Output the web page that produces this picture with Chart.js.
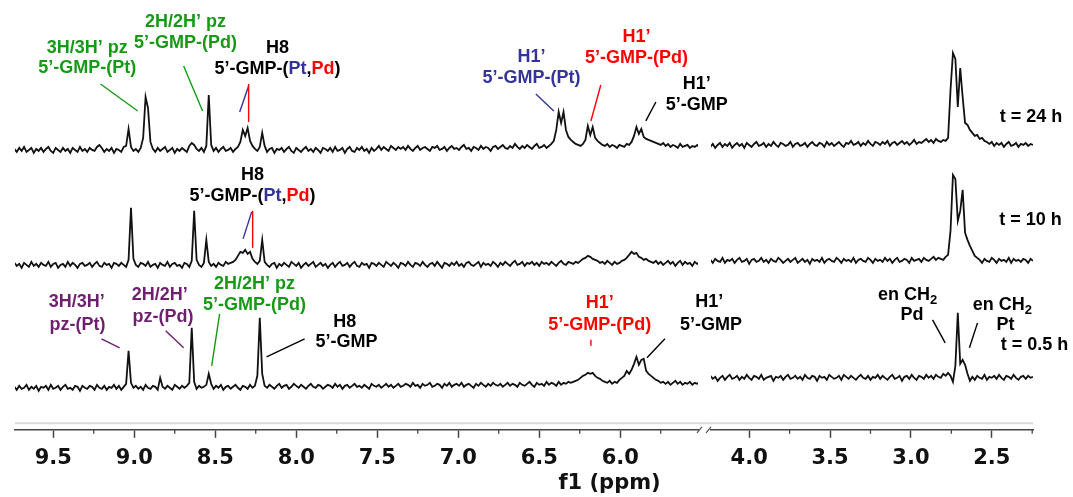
<!DOCTYPE html>
<html>
<head>
<meta charset="utf-8">
<script src="https://cdn.jsdelivr.net/npm/chart.js@4.4.0/dist/chart.umd.min.js"></script>
<style>
  html, body { margin: 0; padding: 0; background: #fff; }
  #wrap { position: relative; width: 1073px; height: 497px; }
  #wrap canvas { position: absolute; left: 0; top: 0; }
</style>
</head>
<body>
<div id="wrap">
  <canvas id="left" width="1073" height="497"></canvas>
  <canvas id="right" width="1073" height="497"></canvas>
</div>
<script>
// spectra are sampled every 0.015 ppm, left part from 9.74 ppm, right part from 4.24 ppm
const ppmStep = 0.015;
const leftStart = 9.74;
const rightStart = 4.24;

// stacked traces: t = 0.5 h, t = 10 h, t = 24 h (vertical offsets of each trace)
const traceNames = ['t = 0.5 h', 't = 10 h', 't = 24 h'];
const baseLeft = [42, 165, 280];
const baseRight = [52, 169, 285];

// tick labels (ppm)
const leftTicks = [9.5, 9.0, 8.5, 8.0, 7.5, 7.0, 6.5, 6.0];
const leftMinor = [9.25, 8.75, 8.25, 7.75, 7.25, 6.75, 6.25, 5.75];
const rightTicks = [4.0, 3.5, 3.0, 2.5];
const rightMinor = [3.75, 3.25, 2.75, 2.25];

// intensities above each baseline
const t05Left = [
  1,-2,2,-1,0,3,-2,1,-1,2,
  -3,1,0,2,-2,3,-1,0,2,-2,
  1,3,-1,0,-2,2,1,-3,2,0,
  -1,2,1,-2,3,0,-1,2,-2,1,
  0,3,-1,2,-2,1,4,37,5,0,
  2,-1,1,-2,3,0,-1,2,1,-2,
  10,1,-1,2,0,-2,3,1,-1,2,
  0,2,5,60,6,-1,2,0,1,3,
  14,4,-1,2,0,3,-2,1,2,-1,
  1,3,0,-2,2,1,-1,3,0,2,
  12,70,14,2,0,3,1,-1,2,4,
  0,2,3,-1,1,4,2,0,3,1,
  -1,2,4,1,0,3,2,-1,1,3,
  2,0,4,1,3,-1,2,3,0,2,
  4,1,2,0,3,1,-1,4,2,1,
  3,0,2,4,1,3,0,2,4,1,
  2,4,3,1,5,2,3,0,4,2,
  3,5,1,2,4,3,0,4,2,5,
  1,3,4,2,5,1,3,4,2,0,
  4,2,5,3,1,4,2,5,3,2,
  4,1,3,5,2,4,3,1,5,3,
  2,4,6,3,1,5,3,4,2,6,
  3,5,4,2,6,3,5,4,6,5,
  6,7,8,10,12,13,15,14,15,12,
  10,9,7,6,5,7,4,6,5,8,
  10,12,17,14,18,24,31,23,28,29,
  17,14,12,10,8,7,5,6,4,6,
  3,5,7,4,6,3,5,4,6,3,
  5,4,6
];
const t05Right = [
  2,-1,1,-3,0,2,-2,1,3,-1,
  0,2,-2,1,-1,3,0,-2,2,1,
  -1,3,-2,0,1,2,-3,1,0,2,
  -2,1,3,-1,0,2,-1,1,-2,3,
  0,-1,2,1,-3,2,0,1,-2,3,
  1,-1,0,2,-2,3,1,-1,2,0,
  -2,1,3,0,-1,2,-2,1,0,3,
  -1,2,0,-2,1,3,-1,0,2,-3,
  1,2,-1,3,0,-2,2,1,-1,3,
  0,2,-1,3,1,0,4,2,5,2,
  -4,12,65,14,18,13,4,-3,1,-2,
  2,0,-1,3,-2,1,0,2,-1,3,
  0,-2,2,1,-1,3,0,-2,1,2,
  -1,2,0,1
];
const t10Left = [
  2,-1,1,-3,2,0,-2,3,-1,1,
  -2,2,0,-1,3,-2,1,2,-3,0,
  1,-2,3,-1,2,0,-3,1,2,-1,
  0,2,-2,1,3,-1,-2,2,0,1,
  -3,2,1,-1,2,0,-2,5,57,6,
  0,-2,2,1,-1,3,-2,0,1,-3,
  2,0,-1,3,-2,1,2,-1,0,-3,
  2,1,-2,4,54,5,0,-2,2,25,
  3,-1,1,-2,2,0,-1,3,1,2,
  3,5,9,13,12,15,11,13,6,3,
  1,4,25,3,0,-2,1,2,-3,1,
  -1,2,0,-2,3,1,-1,2,-3,0,
  2,-1,1,3,-2,0,2,-1,1,-3,
  0,2,-2,1,3,-1,0,2,-2,1,
  3,-1,-2,2,0,1,-3,2,1,-1,
  2,0,-2,3,1,-1,2,0,-3,2,
  1,-1,3,0,-2,2,1,-1,3,0,
  -2,1,2,-1,3,0,-3,2,1,-1,
  2,0,3,-1,1,-2,2,3,0,-1,
  1,3,-2,2,0,1,-1,3,1,-2,
  2,0,3,1,-1,2,4,0,1,3,
  -1,2,1,3,0,2,-1,3,1,2,
  0,3,1,-1,2,4,1,0,3,2,
  1,3,2,4,6,7,9,8,6,5,
  4,2,3,1,4,2,0,3,1,2,
  4,5,7,10,13,11,12,8,7,5,
  6,4,3,2,4,1,3,0,2,4,
  1,3,-1,2,4,0,3,1,2,-1,
  3,1,2
];
const t10Right = [
  1,-2,2,0,-1,3,-2,1,0,2,
  -2,1,3,-1,0,2,-3,1,2,-1,
  0,3,-1,1,-2,2,0,-1,3,1,
  -2,0,2,-1,1,3,-2,0,2,-1,
  1,-3,2,0,1,-1,3,-2,1,2,
  0,-1,3,1,-2,2,0,1,-1,3,
  -2,1,2,0,-1,3,1,-2,2,0,
  1,-1,3,0,2,-2,1,3,-1,0,
  2,1,-2,3,0,1,2,-1,3,1,
  0,2,4,1,3,2,1,4,6,30,
  86,82,40,50,71,28,21,15,10,5,
  3,1,-2,2,0,-1,3,1,-2,2,
  0,1,-1,3,-2,2,0,1,-1,2,
  1,-2,2,0
];
const t24Left = [
  1,-2,2,-1,3,-2,0,2,-3,1,
  -1,2,-2,1,3,-1,-3,2,0,-2,
  2,-1,1,-3,2,0,-2,3,-1,1,
  -2,2,0,-1,3,5,2,-2,1,-1,
  2,-3,1,0,-2,3,4,21,3,-1,
  1,-2,2,12,53,42,8,1,-2,2,
  -1,1,3,-2,0,2,-3,1,-1,2,
  0,-2,4,7,5,1,-1,2,-2,4,
  55,5,-1,2,-2,1,3,-1,0,2,
  -2,1,3,8,20,14,22,9,4,1,
  -1,3,17,4,-2,1,2,-3,1,0,
  2,-2,1,3,-1,-3,2,0,-2,1,
  3,-1,1,-2,2,0,-3,2,1,-1,
  2,-2,3,-1,0,2,-3,1,3,-1,
  -2,2,0,3,-1,1,-3,2,-1,1,
  4,0,3,1,-1,4,2,0,3,1,
  3,0,4,1,-1,2,4,0,2,3,
  1,-1,3,2,4,0,1,3,-1,2,
  4,1,2,0,3,5,1,2,-1,3,
  2,0,4,1,3,2,-1,3,4,1,
  3,5,2,1,4,2,6,3,1,4,
  2,5,3,1,4,6,2,3,5,2,
  4,6,9,20,38,27,38,20,13,10,
  8,6,5,4,6,10,24,15,23,12,
  9,7,5,4,6,3,5,4,2,5,
  4,3,6,5,8,14,23,16,21,13,
  11,10,9,8,7,6,5,7,4,6,
  3,5,4,2,6,3,4,5,2,4,
  3,5,2
];
const t24Right = [
  -2,1,-3,0,2,-2,1,-1,2,-3,
  0,2,-1,1,-3,2,0,-2,1,3,
  -1,0,2,-2,1,-1,3,0,-2,2,
  1,-1,0,3,-2,1,2,-1,0,2,
  -2,1,3,0,-1,2,1,-2,3,0,
  2,-1,1,3,0,-2,2,1,4,0,
  1,3,-1,2,0,4,1,-1,3,2,
  0,3,1,4,-1,2,3,0,2,4,
  1,3,0,2,5,1,3,2,4,6,
  3,5,2,6,4,3,5,4,7,55,
  92,86,38,77,48,22,20,15,12,9,
  10,6,7,4,3,1,3,-1,2,0,
  2,-2,1,3,-1,0,2,-2,1,0,
  2,-1,1,0
];

const GREEN = '#169a16';
const BLUE = '#33339a';
const RED = '#ff0000';
const PURPLE = '#6e1f6e';
const BLACK = '#000000';

const NOTE_FONT = 'bold 18px "Liberation Sans", Arial, sans-serif';
const SUB_FONT = 'bold 13px "Liberation Sans", Arial, sans-serif';
const AXIS_FONT = { family: 'DejaVu Sans', weight: 'bold', size: 21 };

// labels: x in ppm, y in intensity units, one entry per text line
const gmpPtPd = [['5’-GMP-(', BLACK], ['Pt', BLUE], [',', BLACK], ['Pd', RED], [')', BLACK]];
const leftLabels = [
  { x: [9.29, 9.29], y: [382, 362], lines: [[['3H/3H’ pz', GREEN]], [['5’-GMP-(Pt)', GREEN]]] },
  { x: [8.683, 8.683], y: [408, 387], lines: [[['2H/2H’ pz', GREEN]], [['5’-GMP-(Pd)', GREEN]]] },
  { x: [8.115, 8.115], y: [382, 361], lines: [[['H8', BLACK]], gmpPtPd] },
  { x: [6.548, 6.548], y: [373, 352], lines: [[['H1’', BLUE]], [['5’-GMP-(Pt)', BLUE]]] },
  { x: [5.9, 5.9], y: [393, 372], lines: [[['H1’', RED]], [['5’-GMP-(Pd)', RED]]] },
  { x: [5.527, 5.527], y: [346, 325], lines: [[['H1’', BLACK]], [['5’-GMP', BLACK]]] },
  { x: [8.27, 8.27], y: [255, 234], lines: [[['H8', BLACK]], gmpPtPd] },
  { x: [9.355, 9.35], y: [128, 105], lines: [[['3H/3H’', PURPLE]], [['pz-(Pt)', PURPLE]]] },
  { x: [8.843, 8.822], y: [135, 113], lines: [[['2H/2H’', PURPLE]], [['pz-(Pd)', PURPLE]]] },
  { x: [8.257, 8.257], y: [146, 125], lines: [[['2H/2H’ pz', GREEN]], [['5’-GMP-(Pd)', GREEN]]] },
  { x: [7.701, 7.69], y: [108, 88], lines: [[['H8', BLACK]], [['5’-GMP', BLACK]]] },
  { x: [6.126, 6.126], y: [127, 105], lines: [[['H1’', RED]], [['5’-GMP-(Pd)', RED]]] },
  { x: [5.45, 5.44], y: [128, 105], lines: [[['H1’', BLACK]], [['5’-GMP', BLACK]]] },
];
const leftLeaders = [
  { c: GREEN, from: [9.208, 346], to: [8.979, 319] },
  { c: GREEN, from: [8.695, 364], to: [8.578, 319] },
  { c: BLUE, from: [8.294, 344], to: [8.349, 318] },
  { c: RED, from: [8.294, 346], to: [8.294, 308] },
  { c: BLUE, from: [6.521, 336], to: [6.41, 319] },
  { c: RED, from: [6.12, 345], to: [6.181, 309] },
  { c: BLACK, from: [5.78, 328], to: [5.842, 309] },
  { c: BLUE, from: [8.275, 218], to: [8.328, 191] },
  { c: RED, from: [8.269, 219], to: [8.269, 182] },
  { c: PURPLE, from: [9.202, 91], to: [9.09, 82] },
  { c: PURPLE, from: [8.806, 99], to: [8.695, 82] },
  { c: GREEN, from: [8.473, 116], to: [8.522, 64] },
  { c: BLACK, from: [7.948, 91], to: [8.183, 73] },
  { c: RED, from: [6.181, 90], to: [6.181, 84] },
  { c: BLACK, from: [5.724, 91], to: [5.835, 72] },
];
const rightLabels = [
  { x: [2.257], y: [313], lines: [[[traceNames[2], BLACK]]] },
  { x: [2.261], y: [210], lines: [[[traceNames[1], BLACK]]] },
  { x: [2.236], y: [85], lines: [[[traceNames[0], BLACK]]] },
  { x: [3.02, 2.993], y: [135, 115], lines: [[['en CH', BLACK], ['2', BLACK, 'sub']], [['Pd', BLACK]]] },
  { x: [2.434, 2.415], y: [125, 105], lines: [[['en CH', BLACK], ['2', BLACK, 'sub']], [['Pt', BLACK]]] },
];
const rightLeaders = [
  { c: BLACK, from: [2.866, 110], to: [2.788, 87] },
  { c: BLACK, from: [2.588, 107], to: [2.638, 82] },
];

function toPoints(values, start, base) {
  return values.map((v, i) => ({ x: start - i * ppmStep, y: base + v }));
}

function drawLabel(ctx, xs, ys, note) {
  note.lines.forEach((segs, k) => {
    const widths = segs.map((s) => {
      ctx.font = s[2] ? SUB_FONT : NOTE_FONT;
      return ctx.measureText(s[0]).width;
    });
    const total = widths.reduce((a, b) => a + b, 0);
    let px = xs.getPixelForValue(note.x[k]) - total / 2;
    const py = ys.getPixelForValue(note.y[k]);
    segs.forEach((s, m) => {
      ctx.font = s[2] ? SUB_FONT : NOTE_FONT;
      ctx.fillStyle = s[1];
      ctx.fillText(s[0], px, s[2] ? py + 6 : py);
      px += widths[m];
    });
  });
}

function makeDecor(cfg) {
  return {
    id: 'decor',
    afterDraw(chart) {
      const { ctx, chartArea } = chart;
      const xs = chart.scales.x;
      const ys = chart.scales.y;
      const bottom = chartArea.bottom;
      ctx.save();
      //light rule above the axis
      ctx.strokeStyle = '#d9d9d9';
      ctx.lineWidth = 2;
      ctx.beginPath();
      ctx.moveTo(chartArea.left, bottom - 6.5);
      ctx.lineTo(chartArea.right + cfg.ruleExtra, bottom - 6.5);
      ctx.stroke();
      //minor ticks
      ctx.strokeStyle = '#444';
      ctx.lineWidth = 1.3;
      cfg.minor.forEach((v) => {
        const px = xs.getPixelForValue(v);
        ctx.beginPath();
        ctx.moveTo(px, bottom);
        ctx.lineTo(px, bottom + 4);
        ctx.stroke();
      });
      //axis break
      if (cfg.breakMark) {
        const r = chartArea.right;
        ctx.strokeStyle = '#555';
        ctx.lineWidth = 1.2;
        ctx.beginPath();
        ctx.moveTo(r - 1, bottom + 3);
        ctx.lineTo(r + 4, bottom - 3);
        ctx.moveTo(r + 8, bottom + 3);
        ctx.lineTo(r + 13, bottom - 3);
        ctx.stroke();
      }
      //leader lines
      ctx.lineWidth = 1.4;
      cfg.leaders.forEach((l) => {
        ctx.strokeStyle = l.c;
        ctx.beginPath();
        ctx.moveTo(xs.getPixelForValue(l.from[0]), ys.getPixelForValue(l.from[1]));
        ctx.lineTo(xs.getPixelForValue(l.to[0]), ys.getPixelForValue(l.to[1]));
        ctx.stroke();
      });
      ctx.textAlign = 'left';
      ctx.textBaseline = 'middle';
      cfg.labels.forEach((n) => drawLabel(ctx, xs, ys, n));
      if (cfg.axisTitle) {
        ctx.font = 'bold 21px "DejaVu Sans", sans-serif';
        ctx.fillStyle = '#111';
        ctx.textAlign = 'center';
        ctx.fillText(cfg.axisTitle, xs.getPixelForValue(cfg.axisTitleAt), bottom + 54);
      }
      ctx.restore();
    },
  };
}

class SpectrumPanel {
  constructor(ctx, cfg) {
    this.cfg = cfg;
    this.chart = new Chart(ctx, {
      type: 'line',
      data: { datasets: this.getDatasets() },
      options: this.getOptions(),
      plugins: [makeDecor(cfg)],
    });
  }

  getDatasets() {
    return this.cfg.traces.map((t, k) => ({
      label: traceNames[k],
      data: toPoints(t, this.cfg.start, this.cfg.bases[k]),
      borderColor: '#111',
      borderWidth: 1.8,
      pointRadius: 0,
      tension: 0,
      fill: false,
    }));
  }

  getOptions() {
    const ticks = this.cfg.ticks;
    return {
      responsive: false,
      animation: false,
      events: [],
      layout: { padding: this.cfg.padding },
      plugins: { legend: { display: false }, tooltip: { enabled: false } },
      scales: {
        x: {
          type: 'linear',
          reverse: true,
          min: this.cfg.min,
          max: this.cfg.max,
          afterBuildTicks: (axis) => {
            axis.ticks = ticks.map((v) => ({ value: v }));
          },
          ticks: {
            autoSkip: false,
            maxRotation: 0,
            padding: 8,
            color: '#111',
            font: AXIS_FONT,
            callback: (v) => Number(v).toFixed(1),
          },
          grid: { drawOnChartArea: false, tickLength: 8, tickColor: '#444', tickWidth: 1.5 },
          border: { color: '#444', width: 1.5 },
        },
        y: { display: false, min: 0, max: 430 },
      },
    };
  }
}

const leftPanel = new SpectrumPanel(document.getElementById('left'), {
  traces: [t05Left, t10Left, t24Left],
  bases: baseLeft,
  start: leftStart,
  min: 5.52,
  max: 9.736,
  ticks: leftTicks,
  minor: leftMinor,
  padding: { left: 15, right: 375, top: 0, bottom: 18 },
  labels: leftLabels,
  leaders: leftLeaders,
  breakMark: true,
  ruleExtra: 14,
  axisTitle: 'f1 (ppm)',
  axisTitleAt: 6.066,
});

const rightPanel = new SpectrumPanel(document.getElementById('right'), {
  traces: [t05Right, t10Right, t24Right],
  bases: baseRight,
  start: rightStart,
  min: 2.245,
  max: 4.236,
  ticks: rightTicks,
  minor: rightMinor,
  padding: { left: 711, right: 40, top: 0, bottom: 18 },
  labels: rightLabels,
  leaders: rightLeaders,
  breakMark: false,
  ruleExtra: 0,
});
</script>
</body>
</html>
